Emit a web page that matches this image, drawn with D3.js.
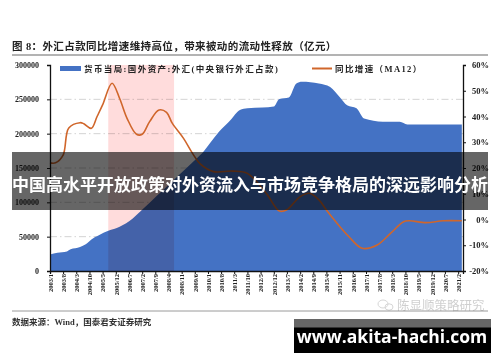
<!DOCTYPE html>
<html>
<head>
<meta charset="utf-8">
<script src="https://cdn.jsdelivr.net/npm/d3@7"></script>
<style>
  body { margin: 0; background: #fff; }
  svg { display: block; }
  .serif { font-family: 'Liberation Serif', 'Noto Sans CJK SC', serif; font-weight: bold; }
  .cjk { font-family: 'Noto Sans CJK SC', sans-serif; }
</style>
</head>
<body>
<div id="chart"></div>
<script>
// 外汇占款 (亿元)
const fxDates = ['2003/1', '2003/5', '2003/10', '2003/12', '2004/5', '2004/8', '2004/11', '2005/3', '2005/8',
    '2006/2', '2006/9', '2007/1', '2007/7', '2008/1', '2008/7', '2009/1', '2009/7', '2009/10', '2010/2',
    '2010/7', '2011/1', '2011/6', '2011/10', '2012/6', '2012/12', '2013/3', '2013/8', '2013/12', '2014/3',
    '2014/12', '2015/6', '2015/11', '2016/3', '2016/8', '2016/12', '2017/10', '2018/7', '2018/11', '2021/4'];
const fxValues = [24000, 26500, 28500, 31500, 35000, 39000, 46000, 52000, 58500,
    64500, 76500, 86500, 102000, 117500, 133000, 148500, 164000, 172000, 186000,
    203000, 220000, 234500, 237000, 238000, 239500, 250500, 252500, 273000, 275500,
    273000, 268000, 253500, 241500, 237000, 222000, 217500, 217500, 213500, 213500];

// 同比增速 (MA12), %
const growthDates = ['2003/1', '2003/4', '2003/8', '2003/11', '2004/5', '2004/7', '2004/11', '2005/2', '2005/5',
    '2005/10', '2006/2', '2006/6', '2006/11', '2007/2', '2007/6', '2007/11', '2008/3', '2008/6', '2008/12',
    '2009/5', '2009/9', '2010/4', '2011/2', '2011/10', '2012/8', '2013/3', '2013/7', '2014/2', '2014/7',
    '2014/12', '2015/4', '2015/9', '2016/4', '2016/11', '2017/7', '2018/2', '2018/9', '2018/12', '2019/9',
    '2020/6', '2021/4'];
const growthValues = [22, 22, 25, 35.5, 37.6, 37.2, 35.4, 40, 44.5,
    52.9, 47, 39.3, 33.1, 33.1, 38, 42.5, 41.6, 37.4, 31.5,
    25.5, 21.5, 18.6, 18.8, 17.9, 10.2, 3.3, 3.8, 8.9, 10.2,
    7.6, 3.7, -0.9, -6.7, -11.2, -9.9, -5.4, -0.9, -0.5, -1.2,
    -0.5, -0.5];

const xTickLabels = ['2003/1', '2003/8', '2004/3', '2004/10', '2005/5', '2005/12', '2006/7', '2007/2', '2007/9',
    '2008/4', '2008/11', '2009/6', '2010/1', '2010/8', '2011/3', '2011/10', '2012/5', '2012/12', '2013/7',
    '2014/2', '2014/9', '2015/4', '2015/11', '2016/6', '2017/1', '2017/8', '2018/3', '2018/10', '2019/5',
    '2019/12', '2020/7', '2021/2'];
const leftTicks = [0, 50000, 100000, 150000, 200000, 250000, 300000];
const rightTicks = [-20, -10, 0, 10, 20, 30, 40, 50, 60];
const highlightRange = ['2005/8', '2008/7'];

const titleText = '图 8：外汇占款同比增速维持高位，带来被动的流动性释放（亿元）';
const legendFx = '货币当局:国外资产:外汇(中央银行外汇占款)';
const legendGrowth = '同比增速（MA12）';
const sourceText = '数据来源：Wind，国泰君安证券研究';
const bannerText = '中国高水平开放政策对外资流入与市场竞争格局的深远影响分析';
const siteText = 'www.akita-hachi.com';
const markText = '陈显顺策略研究';

const parseMonth = s => {
    const [y, m] = s.split('/').map(Number);
    return new Date(y, m - 1, 1);
};

const svg = d3.select('#chart').append('svg').attr('width', 500).attr('height', 362);

const x = d3.scaleTime()
    .domain([new Date(2003, 0, 1), new Date(2021, 3, 20)])
    .range([50, 463]);
const yLeft = d3.scaleLinear().domain([0, 300000]).range([271, 65]);
const yRight = d3.scaleLinear().domain([-20, 60]).range([271, 65]);

const fxData = fxDates.map((d, i) => ({ date: parseMonth(d), value: fxValues[i] }));
const growthData = growthDates.map((d, i) => ({ date: parseMonth(d), value: growthValues[i] }));

// title + rules
svg.append('text')
    .attr('class', 'serif')
    .attr('x', 12).attr('y', 50)
    .attr('font-size', 10.5)
    .attr('letter-spacing', 0.4)
    .attr('fill', '#222')
    .text(titleText);
svg.append('line').attr('x1', 12).attr('x2', 488).attr('y1', 55).attr('y2', 55)
    .attr('stroke', '#9a9a9a').attr('stroke-width', 1.3);
svg.append('line').attr('x1', 12).attr('x2', 488).attr('y1', 311).attr('y2', 311)
    .attr('stroke', '#9a9a9a').attr('stroke-width', 1);

// gridlines
svg.append('g')
    .selectAll('line')
    .data(leftTicks.filter(d => d > 0 && d < 300000))
    .enter().append('line')
    .attr('x1', 50).attr('x2', 463)
    .attr('y1', d => yLeft(d)).attr('y2', d => yLeft(d))
    .attr('stroke', '#c8c8c8')
    .attr('stroke-width', 0.8)
    .attr('stroke-dasharray', '7,3,1.5,3');

// area
const area = d3.area()
    .x(d => x(d.date))
    .y0(yLeft(0))
    .y1(d => yLeft(d.value))
    .curve(d3.curveMonotoneX);
svg.append('path')
    .datum(fxData)
    .attr('fill', '#4472c4')
    .attr('d', area);

// pink highlight
svg.append('rect')
    .attr('x', x(parseMonth(highlightRange[0])))
    .attr('y', 65)
    .attr('width', x(parseMonth(highlightRange[1])) - x(parseMonth(highlightRange[0])))
    .attr('height', 271 - 65)
    .attr('fill', '#ffdcdc')
    .style('mix-blend-mode', 'multiply');

// growth line
const line = d3.line()
    .x(d => x(d.date))
    .y(d => yRight(d.value))
    .curve(d3.curveCatmullRom.alpha(0.5));
svg.append('path')
    .datum(growthData)
    .attr('fill', 'none')
    .attr('stroke', '#d0662b')
    .attr('stroke-width', 1.6)
    .attr('d', line);

// axes
const leftAxis = svg.append('g')
    .attr('transform', 'translate(50,0)')
    .call(d3.axisLeft(yLeft).tickValues(leftTicks).tickSize(3).tickPadding(8).tickFormat(d3.format('d')));
const rightAxis = svg.append('g')
    .attr('transform', 'translate(463,0)')
    .call(d3.axisRight(yRight).tickValues(rightTicks).tickSize(3).tickPadding(4).tickFormat(d => d + '%'));
rightAxis.selectAll('text').attr('text-anchor', 'end').attr('x', 26);
const bottomAxis = svg.append('g')
    .attr('transform', 'translate(0,271)')
    .call(d3.axisBottom(x).tickValues(xTickLabels.map(parseMonth)).tickSize(3).tickFormat((d, i) => xTickLabels[i]));
bottomAxis.selectAll('text')
    .attr('transform', 'rotate(-90)')
    .attr('text-anchor', 'end')
    .attr('x', -3)
    .attr('y', 0)
    .attr('dy', '0.35em');

[leftAxis, rightAxis, bottomAxis].forEach(a => {
    a.select('.domain').attr('stroke', '#111').attr('stroke-width', 1.3);
    a.selectAll('.tick line').attr('stroke', '#111');
    a.selectAll('text').attr('class', 'serif').attr('fill', '#222');
});
leftAxis.selectAll('text').attr('font-size', 8);
rightAxis.selectAll('text').attr('font-size', 8.5);
bottomAxis.selectAll('text').attr('font-size', 6.5);

// legend
svg.append('rect').attr('x', 60).attr('y', 66).attr('width', 21).attr('height', 5).attr('fill', '#4472c4');
svg.append('text')
    .attr('class', 'serif')
    .attr('x', 84).attr('y', 71.5)
    .attr('font-size', 8.5)
    .attr('letter-spacing', 1.4)
    .attr('fill', '#222')
    .text(legendFx);
svg.append('line').attr('x1', 312).attr('x2', 332).attr('y1', 68.5).attr('y2', 68.5)
    .attr('stroke', '#d0662b').attr('stroke-width', 2);
svg.append('text')
    .attr('class', 'serif')
    .attr('x', 335).attr('y', 71.5)
    .attr('font-size', 8.5)
    .attr('letter-spacing', 1.4)
    .attr('fill', '#222')
    .text(legendGrowth);

// source
svg.append('text')
    .attr('class', 'serif')
    .attr('x', 12).attr('y', 324.5)
    .attr('font-size', 8.5)
    .attr('fill', '#333')
    .text(sourceText);

// faint watermark
const mark = svg.append('g').attr('opacity', 0.35);
mark.append('ellipse').attr('cx', 383).attr('cy', 304).attr('rx', 5).attr('ry', 4)
    .attr('fill', 'none').attr('stroke', '#888');
mark.append('ellipse').attr('cx', 389).attr('cy', 307).attr('rx', 4).attr('ry', 3.2)
    .attr('fill', 'none').attr('stroke', '#888');
mark.append('text')
    .attr('class', 'cjk')
    .attr('x', 397).attr('y', 310)
    .attr('font-size', 12.5)
    .attr('fill', '#777')
    .text(markText);

// banner overlay
svg.append('rect')
    .attr('x', 12).attr('y', 152).attr('width', 476).attr('height', 58)
    .attr('fill', 'rgba(0,0,0,0.6)');
svg.append('text')
    .attr('class', 'cjk')
    .attr('x', 250).attr('y', 191)
    .attr('text-anchor', 'middle')
    .attr('font-size', 17)
    .attr('font-weight', 'bold')
    .attr('fill', '#fff')
    .text(bannerText);

// site box
svg.append('rect').attr('x', 294).attr('y', 319).attr('width', 197).attr('height', 34).attr('fill', '#000');
svg.append('rect').attr('x', 294).attr('y', 319).attr('width', 197).attr('height', 8.5).attr('fill', '#666');
svg.append('text')
    .attr('x', 392).attr('y', 342.5)
    .attr('text-anchor', 'middle')
    .attr('font-family', "'Open Sans', 'Liberation Sans', sans-serif")
    .attr('font-weight', 'bold')
    .attr('font-size', 17.5)
    .attr('fill', '#fff')
    .text(siteText);
</script>
</body>
</html>
